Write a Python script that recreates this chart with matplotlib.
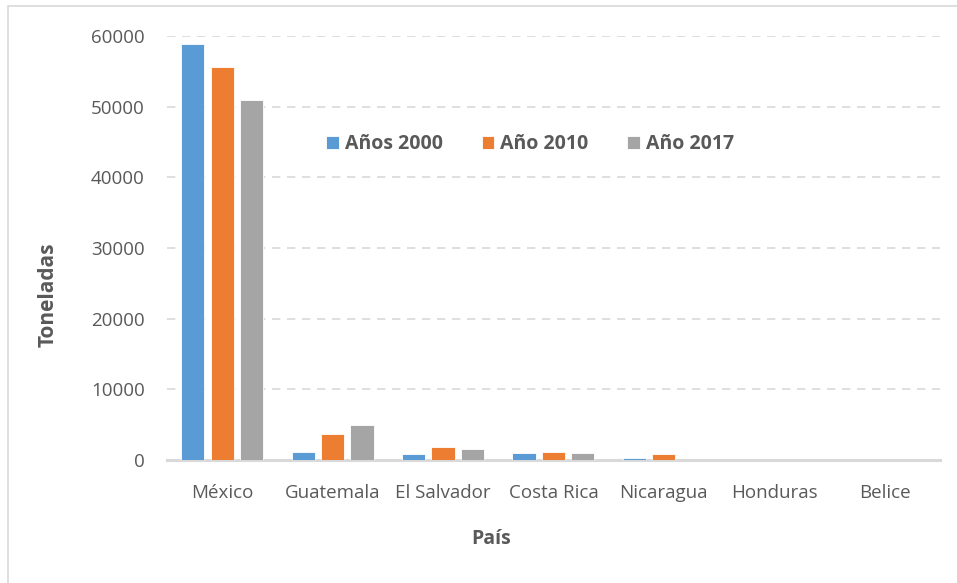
import numpy as np
import matplotlib.pyplot as plt
from matplotlib.patches import Rectangle

plt.rcParams['font.family'] = ['Open Sans', 'DejaVu Sans']

paises = ['México', 'Guatemala', 'El Salvador', 'Costa Rica', 'Nicaragua', 'Honduras', 'Belice']
series = ['Años 2000', 'Año 2010', 'Año 2017']
anio_2000 = [58900, 1200, 850, 1000, 340, 0, 0]
anio_2010 = [55600, 3700, 1900, 1180, 900, 0, 0]
anio_2017 = [51000, 5000, 1550, 1000, 0, 0, 0]
colores = ['#5B9BD5', '#ED7D31', '#A5A5A5']

fig = plt.figure(figsize=(9.57, 5.83), dpi=100)
ax = fig.add_axes([0.1745, 0.211, 0.8075, 0.727])

# light border around the chart (only top/left visible in the crop)
fig.patches.append(Rectangle((8 / 957, -0.1), 1.2, 1 - 6 / 583 + 0.1, transform=fig.transFigure,
                             fill=False, edgecolor='#D9D9D9', linewidth=1.2))

x = np.arange(len(paises))
ancho = 0.21
paso = 0.267
for i, (nombre, valores) in enumerate(zip(series, [anio_2000, anio_2010, anio_2017])):
    ax.bar(x + (i - 1) * paso, valores, width=ancho, color=colores[i], label=nombre,
           edgecolor='white', linewidth=0.6, zorder=3)

ax.set_xlim(-0.5, len(paises) - 0.5)
ax.set_ylim(0, 60000)
ax.set_yticks(range(0, 60001, 10000))
ax.set_xticks(x)
ax.set_xticklabels(paises)
ax.tick_params(axis='both', length=0, labelsize=13.5, colors='#595959')
ax.tick_params(axis='x', pad=17)
ax.tick_params(axis='y', pad=16)

ax.grid(axis='y', color='#D9D9D9', linestyle=(0, (5, 4)), linewidth=1.2, zorder=0)
for lado in ['top', 'right', 'left']:
    ax.spines[lado].set_visible(False)
ax.spines['bottom'].set_color('#D9D9D9')
ax.spines['bottom'].set_linewidth(2.2)

ax.set_ylabel('Toneladas', fontsize=15, fontweight='bold', color='#595959')
ax.yaxis.set_label_coords(-0.14, 0.39)
ax.set_xlabel('País', fontsize=14, fontweight='bold', color='#595959')
ax.xaxis.set_label_coords(0.419, -0.164)

leg = ax.legend(loc='center', bbox_to_anchor=(0.47, 0.745), ncol=3, frameon=False,
                prop={'size': 14, 'weight': 'bold'}, handlelength=0.65, handleheight=0.65,
                handletextpad=0.3, columnspacing=2.0)
for t in leg.get_texts():
    t.set_color('#595959')

fig.savefig('out.png', dpi=100)
